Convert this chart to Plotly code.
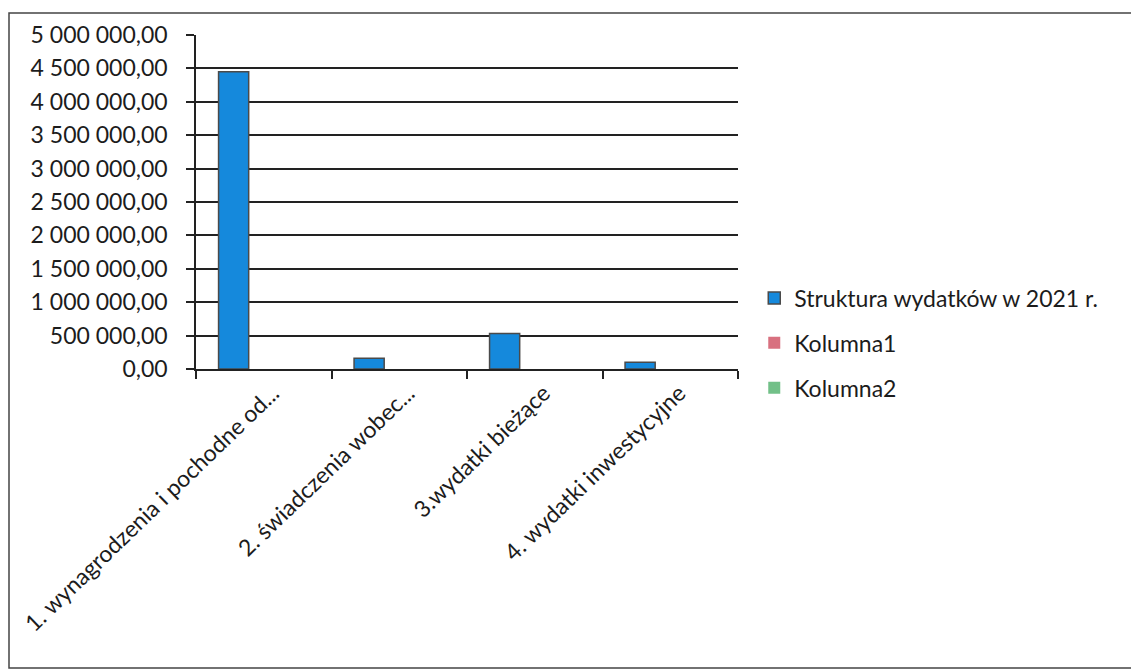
import plotly.graph_objects as go

categories = [
    "1. wynagrodzenia i pochodne od...",
    "2. świadczenia wobec...",
    "3.wydatki bieżące",
    "4. wydatki inwestycyjne",
]
series_main_name = "Struktura wydatków w 2021 r."
series_main = [4450000, 160000, 530000, 100000]
series_k1_name = "Kolumna1"
series_k1 = [None, None, None, None]
series_k2_name = "Kolumna2"
series_k2 = [None, None, None, None]

y_tickvals = [0, 500000, 1000000, 1500000, 2000000, 2500000,
              3000000, 3500000, 4000000, 4500000, 5000000]
y_ticktext = ["0,00", "500 000,00", "1 000 000,00", "1 500 000,00",
              "2 000 000,00", "2 500 000,00", "3 000 000,00",
              "3 500 000,00", "4 000 000,00", "4 500 000,00",
              "5 000 000,00"]

FONT = "Lato"
TXT = "#1c1c1c"
W, H = 1139, 672
OFF = 8  # page body margin
L, T = 196 - OFF, 35 - OFF
R = W - (738 - OFF)
B = H - (369 - OFF)

fig = go.Figure()
fig.add_trace(go.Bar(x=categories, y=series_main, name=series_main_name,
                     marker=dict(color="#1589dc", line=dict(color="#4a4a4a", width=1.5)),
                     legendgroup="a"))
fig.add_trace(go.Bar(x=categories, y=series_k1, name=series_k1_name,
                     marker=dict(color="#d8707f", line=dict(width=0)),
                     legendgroup="b"))
fig.add_trace(go.Bar(x=categories, y=series_k2, name=series_k2_name,
                     marker=dict(color="#72c088", line=dict(width=0)),
                     legendgroup="c"))

pw = W - L - R
ph = H - T - B
bx0 = (1.0 - L) / pw
bx1 = (1160 - OFF - L) / pw
by0 = -(668 - 369) / ph
by1 = 1 + (35 - 13) / ph

fig.update_layout(
    width=W, height=H,
    margin=dict(l=L, r=R, t=T, b=B, autoexpand=False),
    paper_bgcolor="white", plot_bgcolor="white",
    barmode="group", bargap=0.333, bargroupgap=0,
    font=dict(family=FONT, size=23, color=TXT),
    showlegend=True,
    legend=dict(x=1.03, xanchor="left", y=0.078, yanchor="middle",
                font=dict(family=FONT, size=23, color=TXT),
                tracegroupgap=12, bgcolor="rgba(0,0,0,0)"),
    xaxis=dict(type="category", tickson="boundaries", ticks="outside",
               ticklen=8, tickcolor="#222", tickwidth=1.5,
               showline=True, linecolor="#222", linewidth=1.5,
               showgrid=False, tickangle=-44, ticklabelshift=9,
               tickfont=dict(family=FONT, size=23, color=TXT)),
    yaxis=dict(range=[0, 5000000], tickvals=y_tickvals, ticktext=y_ticktext,
               ticks="outside", ticklen=8, tickcolor="#222", tickwidth=1.5,
               showline=True, linecolor="#222", linewidth=1.5,
               showgrid=True, gridcolor="#222", gridwidth=1.5,
               zeroline=False, ticklabelstandoff=14,
               tickfont=dict(family=FONT, size=23, color=TXT)),
    shapes=[dict(type="rect", xref="paper", yref="paper",
                 x0=bx0, x1=bx1, y0=by0, y1=by1,
                 line=dict(color="#444", width=1.5), fillcolor="rgba(0,0,0,0)",
                 layer="below")],
)

fig.write_html("out.html")
